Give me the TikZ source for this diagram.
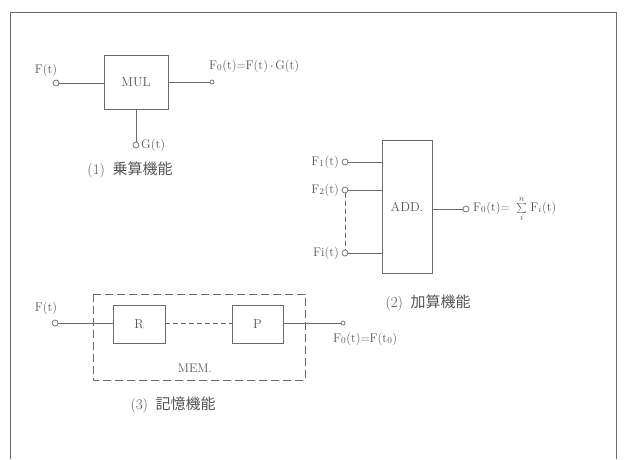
\documentclass[tikz,border=0pt]{standalone}
\usepackage{fontspec}
\newfontfamily\cjk{Noto Sans CJK JP}
\usetikzlibrary{positioning}
\definecolor{ln}{HTML}{6A6A6A}
\definecolor{tx}{HTML}{555555}
\tikzset{
  blk/.style={draw=ln, line width=0.8pt, minimum width=#1, inner sep=0pt},
  term/.style={circle, draw=ln, line width=0.7pt, fill=white, minimum size=6pt, inner sep=0pt},
  lbl/.style={text=tx, font=\fontsize{12.5}{13}\selectfont, inner sep=1pt},
  captxt/.style={text=tx, font=\fontsize{15}{16}\selectfont, inner sep=1pt},
  wire/.style={draw=ln, line width=0.7pt},
  dwire/.style={draw=ln, line width=0.7pt, dash pattern=on 5pt off 3pt},
}
\begin{document}
\begin{tikzpicture}[x=1pt,y=-1pt]
\useasboundingbox (0,0) rectangle (628,459);
% outer frame
\draw[ln, line width=0.8pt] (10,459) -- (10,12) -- (616,12) -- (616,459);

% (1) MUL
\node[blk=64pt, minimum height=54pt, text=tx, font=\fontsize{13}{14}\selectfont] (mul) at (136,82) {MUL};
\node[term] (mi) at (56,83) {};
\node[lbl, anchor=south] (mil) at (46,78) {F(t)};
\node[term, minimum size=4pt] (mo) at (212,82) {};
\node[lbl, anchor=west] (mol) at (208,66) {F$_0$(t)$=$F(t)$\,\cdot\,$G(t)};
\node[term] (mg) at (136,145) {};
\node[lbl, anchor=west] (mgl) at (140,145) {G(t)};
\draw[wire] (mi) -- (mi -| mul.west);
\draw[wire] (mul.east |- mo) -- (mo);
\draw[wire] (mul.south) -- (mg);
\node[captxt] (c1) at (130,170) {(1)\enspace{\cjk 乗算機能}};

% (2) ADD
\node[blk=50pt, minimum height=133pt, text=tx, font=\fontsize{13}{14}\selectfont] (add) at (407,206.5) {ADD.};
\node[term] (a1) at (345,162) {};
\node[term] (a2) at (345,190) {};
\node[term] (ai) at (345,253) {};
\node[lbl, anchor=east] (a1l) at (340,162) {F$_1$(t)};
\node[lbl, anchor=east] (a2l) at (340,190) {F$_2$(t)};
\node[lbl, anchor=east] (ail) at (340,253) {Fi(t)};
\draw[wire] (a1) -- (a1 -| add.west);
\draw[wire] (a2) -- (a2 -| add.west);
\draw[wire] (ai) -- (ai -| add.west);
\draw[dwire] (a2) -- (ai);
\node[term] (ao) at (466,209) {};
\draw[wire] (add.east |- ao) -- (ao);
\node[lbl, anchor=west] (aol) at (472,209) {F$_0$(t)$=\;\sum\limits_{i}^{n}$\;F$_i$(t)};
\node[captxt] (c2) at (428,303) {(2)\enspace{\cjk 加算機能}};

% (3) MEM
\draw[ln, line width=0.8pt, dash pattern=on 8pt off 4pt] (93,294) rectangle (305,380);
\node[blk=52pt, minimum height=38pt, text=tx, font=\fontsize{13}{14}\selectfont] (r) at (139,324) {R};
\node[blk=51pt, minimum height=38pt, text=tx, font=\fontsize{13}{14}\selectfont] (p) at (257.5,324) {P};
\node[term] (mmi) at (55,323) {};
\node[lbl, anchor=south] (mmil) at (46,316) {F(t)};
\node[term, minimum size=4pt] (mmo) at (343,323) {};
\draw[wire] (mmi) -- (mmi -| r.west);
\draw[dwire] (r.east |- mmi) -- (p.west |- mmi);
\draw[wire] (p.east |- mmi) -- (mmo);
\node[lbl, anchor=west] (mmol) at (332,339) {F$_0$(t)$=$F(t$_0$)};
\node[lbl] (meml) at (195,368) {MEM.};
\node[captxt] (c3) at (173,405) {(3)\enspace{\cjk 記憶機能}};
\end{tikzpicture}
\end{document}
